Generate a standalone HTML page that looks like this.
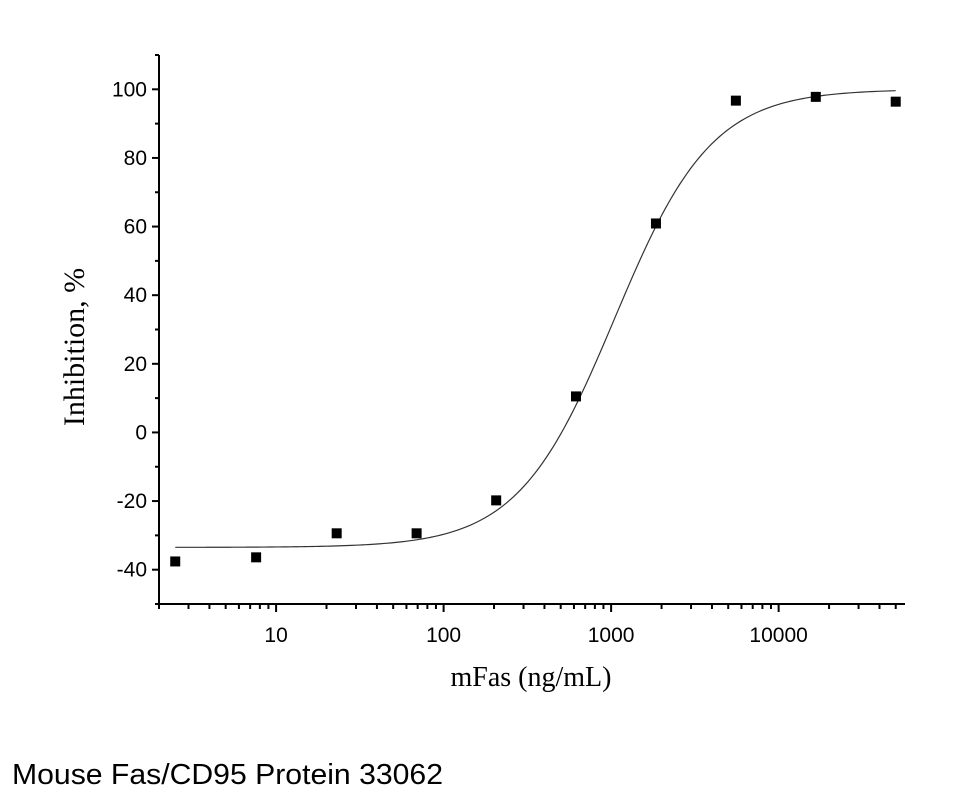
<!DOCTYPE html>
<html><head><meta charset="utf-8"><style>
html,body{margin:0;padding:0;background:#fff;width:960px;height:800px;overflow:hidden}
svg{display:block}
</style></head><body>
<svg id="chart" width="960" height="800" xmlns="http://www.w3.org/2000/svg">
<g id="axes"></g>
<g id="curve"></g>
<g id="points"></g>
<text transform="translate(84,347) rotate(-90)" text-anchor="middle" font-family="Liberation Serif, serif" font-size="30">Inhibition, %</text>
<text x="531" y="686" text-anchor="middle" font-family="Liberation Serif, serif" font-size="28">mFas (ng/mL)</text>
<text x="12" y="784" font-family="Liberation Sans, sans-serif" font-size="29" textLength="431" lengthAdjust="spacingAndGlyphs">Mouse Fas/CD95 Protein 33062</text>
</svg>
<script>
const concentrations=[2.5,7.6,23,69,206,617,1852,5556,16667,50000];
const inhibition=[-37.6,-36.4,-29.4,-29.4,-19.8,10.5,60.9,96.7,97.8,96.4];
const yTicks=[-40,-20,0,20,40,60,80,100];
const xTickLabels=[10,100,1000,10000];
const fitBottom=-33.5, fitTop=100, fitEC50=1050, fitHill=1.5;
const xMin=2, xMax=56800, yMin=-50, yMax=110;
const L=159,R=905,T=55,B=604;
const NS='http://www.w3.org/2000/svg';
function xs(v){return L+(Math.log10(v)-Math.log10(xMin))/(Math.log10(xMax)-Math.log10(xMin))*(R-L);}
function ys(v){return B-(v-yMin)/(yMax-yMin)*(B-T);}
function mk(p,tag,attrs){const e=document.createElementNS(NS,tag);for(const k in attrs)e.setAttribute(k,attrs[k]);p.appendChild(e);return e;}
const ax=document.getElementById('axes');
let e=mk(ax,'path',{d:`M${L},${T}V${B}H${R}`,fill:'none',stroke:'#000','stroke-width':2});


for(let v=-50;v<=110;v+=10){
  const major=yTicks.includes(v);
  e=mk(ax,'line',{x1:L-(major?7:4),x2:L,y1:ys(v),y2:ys(v),stroke:'#000','stroke-width':2});
  
  
}
yTicks.forEach(v=>{
  e=mk(ax,'text',{x:L-12,y:ys(v)+7,'text-anchor':'end','font-family':'Liberation Sans, sans-serif','font-size':21});
  e.textContent=v;
  
  
});
for(let d=0;d<=4;d++){
  for(let m=1;m<=9;m++){
    const v=m*Math.pow(10,d);
    if(v<xMin||v>xMax)continue;
    const major=(m===1);
    e=mk(ax,'line',{x1:xs(v),x2:xs(v),y1:B,y2:B+(major?8:5),stroke:'#000','stroke-width':2});
    
    
  }
}
xTickLabels.forEach(v=>{
  e=mk(ax,'text',{x:xs(v),y:B+38,'text-anchor':'middle','font-family':'Liberation Sans, sans-serif','font-size':21});
  e.textContent=v;
  
  
});
let d='';
const a=Math.log10(concentrations[0]),b=Math.log10(concentrations[concentrations.length-1]);
for(let i=0;i<=200;i++){
  const x=Math.pow(10,a+(b-a)*i/200);
  const y=fitBottom+(fitTop-fitBottom)/(1+Math.pow(fitEC50/x,fitHill));
  d+=(i?'L':'M')+xs(x).toFixed(2)+','+ys(y).toFixed(2);
}
e=mk(document.getElementById('curve'),'path',{d:d,fill:'none',stroke:'#333','stroke-width':1.2});


const pts=document.getElementById('points');
concentrations.forEach((c,i)=>{
  e=mk(pts,'rect',{x:xs(c)-5,y:ys(inhibition[i])-5,width:10,height:10,fill:'#000'});
  
  
});
</script>
</body></html>
